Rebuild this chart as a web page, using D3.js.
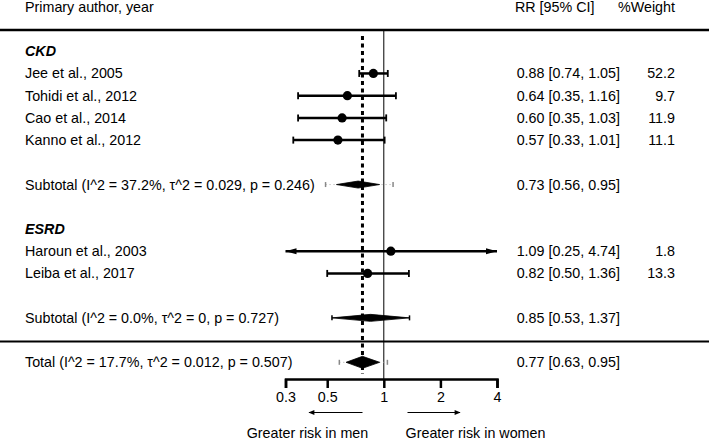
<!DOCTYPE html>
<html><head><meta charset="utf-8">
<script src="https://cdn.jsdelivr.net/npm/d3@7"></script>
<style>
html,body{margin:0;padding:0;background:#fff;}
text{font-family:"Liberation Sans",Arial,Helvetica,sans-serif;font-size:14.3px;fill:#000;}
</style></head>
<body><svg id="c" width="709" height="440"></svg>
<script>
// ---- data ----
const groups = ["CKD", "ESRD"];
const studyNames = ["Jee et al., 2005","Tohidi et al., 2012","Cao et al., 2014","Kanno et al., 2012","Haroun et al., 2003","Leiba et al., 2017"];
const studyGroup = ["CKD","CKD","CKD","CKD","ESRD","ESRD"];
const studyRR = [0.88, 0.64, 0.60, 0.57, 1.09, 0.82];
const studyLo = [0.74, 0.35, 0.35, 0.33, 0.25, 0.50];
const studyHi = [1.05, 1.16, 1.03, 1.01, 4.74, 1.36];
const studyWeight = ["52.2","9.7","11.9","11.1","1.8","13.3"];
const subLabels = ["Subtotal (I^2 = 37.2%, \u03C4^2 = 0.029, p = 0.246)","Subtotal (I^2 = 0.0%, \u03C4^2 = 0, p = 0.727)"];
const subRR = [0.73, 0.85];
const subLo = [0.56, 0.53];
const subHi = [0.95, 1.37];
const subPiLo = [0.49, 0.53];
const subPiHi = [1.12, 1.37];
const totalLabel = "Total (I^2 = 17.7%, \u03C4^2 = 0.012, p = 0.507)";
const totalRR = 0.77, totalLo = 0.63, totalHi = 0.95, totalPiLo = 0.58, totalPiHi = 1.045;
const tickValues = [0.3, 0.5, 1, 2, 4];
const tickLabels = ["0.3","0.5","1","2","4"];
const fmt = v => d3.format(".2f")(v);

// ---- layout ----
const svg = d3.select("#c");
const x = d3.scaleLog().domain([0.3, 4]).range([285.5, 497]);
const row = d3.scaleLinear().domain([0, 16]).range([6.8, 362.3]);
const labelX = 25, rrX = 620, wX = 675;

function txt(t, xx, yy, anchor, extra) {
  const el = svg.append("text").attr("x", xx).attr("y", yy).attr("dy", "0.35em")
    .attr("text-anchor", anchor || "start").text(t);
  if (extra) extra(el);
  return el;
}

// header
txt("Primary author, year", labelX, row(0));
txt("RR [95% CI]", 515, row(0));
txt("%Weight", wX, row(0), "end");
svg.append("line").attr("x1",0).attr("x2",709).attr("y1",30).attr("y2",30).attr("stroke","#000").attr("stroke-width",2.5);
svg.append("line").attr("x1",0).attr("x2",709).attr("y1",341.5).attr("y2",341.5).attr("stroke","#000").attr("stroke-width",2);

// reference lines
svg.append("line").attr("x1",x(1)).attr("x2",x(1)).attr("y1",30).attr("y2",379).attr("stroke","#000").attr("stroke-width",1);
svg.append("line").attr("x1",x(totalRR)).attr("x2",x(totalRR)).attr("y1",36).attr("y2",374)
  .attr("stroke","#000").attr("stroke-width",3).attr("stroke-dasharray","4,3.5");

// rows
const g = svg.append("g");
function ciRow(i, yy) {
  const lo = studyLo[i], hi = studyHi[i];
  const xl = x(Math.max(lo, 0.3)), xh = x(Math.min(hi, 4));
  g.append("line").attr("x1",xl).attr("x2",xh).attr("y1",yy).attr("y2",yy).attr("stroke","#000").attr("stroke-width",2.5);
  if (lo >= 0.3) g.append("line").attr("x1",xl).attr("x2",xl).attr("y1",yy-3.5).attr("y2",yy+3.5).attr("stroke","#000").attr("stroke-width",1.8);
  else g.append("path").attr("d",`M${xl},${yy}L${xl+11},${yy-3}L${xl+11},${yy+3}Z`).attr("fill","#000");
  if (hi <= 4) g.append("line").attr("x1",xh).attr("x2",xh).attr("y1",yy-3.5).attr("y2",yy+3.5).attr("stroke","#000").attr("stroke-width",1.8);
  else g.append("path").attr("d",`M${xh},${yy}L${xh-11},${yy-3}L${xh-11},${yy+3}Z`).attr("fill","#000");
  g.append("circle").attr("cx",x(studyRR[i])).attr("cy",yy).attr("r",4.6).attr("fill","#000");
}
function diamond(est, lo, hi, piLo, piHi, yy, h) {
  const same = piLo >= lo && piHi <= hi;
  const col = same ? "#000" : "#888";
  g.append("line").attr("x1",x(piLo)).attr("x2",x(piHi)).attr("y1",yy).attr("y2",yy).attr("stroke","#aaa").attr("stroke-width",1).attr("stroke-dasharray", same ? null : "1,3");
  [piLo, piHi].forEach(v => g.append("line").attr("x1",x(v)).attr("x2",x(v)).attr("y1",yy-2.5).attr("y2",yy+2.5).attr("stroke",col).attr("stroke-width",1.5));
  g.append("path").attr("d",`M${x(lo)},${yy}L${x(est)},${yy-h/2}L${x(hi)},${yy}L${x(est)},${yy+h/2}Z`)
    .attr("fill","#000").attr("stroke","#000").attr("stroke-width",0.8).attr("stroke-linejoin","miter");
}

let r0 = 2;
groups.forEach((grp, gi) => {
  txt(grp, labelX, row(r0), "start", e => e.attr("font-weight","bold").attr("font-style","italic"));
  let k = 0;
  studyNames.forEach((name, i) => {
    if (studyGroup[i] !== grp) return;
    k++;
    const yy = row(r0 + k);
    txt(name, labelX, yy);
    txt(`${fmt(studyRR[i])} [${fmt(studyLo[i])}, ${fmt(studyHi[i])}]`, rrX, yy, "end");
    txt(studyWeight[i], wX, yy, "end");
    ciRow(i, yy);
  });
  const ys = row(r0 + k + 2);
  txt(subLabels[gi], labelX, ys);
  txt(`${fmt(subRR[gi])} [${fmt(subLo[gi])}, ${fmt(subHi[gi])}]`, rrX, ys, "end");
  diamond(subRR[gi], subLo[gi], subHi[gi], subPiLo[gi], subPiHi[gi], ys, 7);
  r0 = r0 + k + 4;
});

const yt = row(16);
txt(totalLabel, labelX, yt);
txt(`${fmt(totalRR)} [${fmt(totalLo)}, ${fmt(totalHi)}]`, rrX, yt, "end");
diamond(totalRR, totalLo, totalHi, totalPiLo, totalPiHi, yt, 12);

// axis
const axis = d3.axisBottom(x).tickValues(tickValues).tickFormat((d,i) => tickLabels[i]).tickSizeOuter(0).tickSize(9).tickPadding(4);
const ax = svg.append("g").attr("transform","translate(0,379)").call(axis);
ax.select(".domain").attr("stroke","#000").attr("stroke-width",2.5);
ax.selectAll(".tick line").attr("stroke","#000").attr("stroke-width",2.5);
ax.selectAll(".tick text").attr("font-size","14.3px").attr("font-family","Liberation Sans, Arial, sans-serif").attr("fill","#000");

// arrows & labels
const ay = 412.5;
svg.append("defs").append("marker").attr("id","ah").attr("viewBox","0 0 10 10").attr("refX",9).attr("refY",5)
  .attr("markerWidth",7).attr("markerHeight",6).attr("orient","auto-start-reverse").attr("markerUnits","userSpaceOnUse")
  .append("path").attr("d","M0,1L10,5L0,9Z").attr("fill","#000");
svg.append("line").attr("x1",362.5).attr("x2",309).attr("y1",ay).attr("y2",ay).attr("stroke","#000").attr("stroke-width",1.2).attr("marker-end","url(#ah)");
svg.append("line").attr("x1",407.5).attr("x2",460).attr("y1",ay).attr("y2",ay).attr("stroke","#000").attr("stroke-width",1.2).attr("marker-end","url(#ah)");
txt("Greater risk in men", 307.5, 433, "middle");
txt("Greater risk in women", 475.5, 433, "middle");
</script></body></html>
